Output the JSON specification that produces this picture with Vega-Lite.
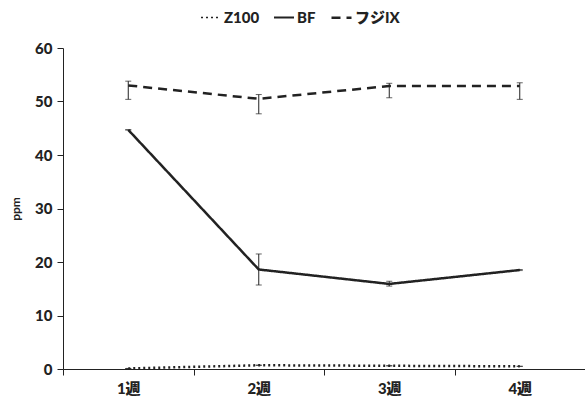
{
  "$schema": "https://vega.github.io/schema/vega-lite/v6.json",
  "width": 522,
  "height": 321,
  "autosize": "none",
  "padding": {"left": 63, "top": 48, "right": 0, "bottom": 33},
  "config": {
    "view": {"stroke": null},
    "font": "Lato, 'Noto Sans CJK JP'",
    "axis": {"grid": false, "domainColor": "#222", "tickColor": "#222", "labelColor": "#222", "titleColor": "#222", "labelFont": "Lato, 'Noto Sans CJK JP'", "labelFontWeight": 900, "labelFontSize": 15}
  },
  "datasets": {
    "main": [
      {"week": "1週", "series": "Z100", "ppm": 0.1, "lo": 0.1, "hi": 0.1},
      {"week": "2週", "series": "Z100", "ppm": 0.7, "lo": 0.7, "hi": 0.7},
      {"week": "3週", "series": "Z100", "ppm": 0.6, "lo": 0.6, "hi": 0.6},
      {"week": "4週", "series": "Z100", "ppm": 0.5, "lo": 0.5, "hi": 0.5},
      {"week": "1週", "series": "BF", "ppm": 44.7, "lo": 44.7, "hi": 44.7},
      {"week": "2週", "series": "BF", "ppm": 18.6, "lo": 15.7, "hi": 21.5},
      {"week": "3週", "series": "BF", "ppm": 15.9, "lo": 15.5, "hi": 16.4},
      {"week": "4週", "series": "BF", "ppm": 18.5, "lo": 18.4, "hi": 18.6},
      {"week": "1週", "series": "フジIX", "ppm": 53.0, "lo": 50.4, "hi": 53.8},
      {"week": "2週", "series": "フジIX", "ppm": 50.5, "lo": 47.7, "hi": 51.3},
      {"week": "3週", "series": "フジIX", "ppm": 52.9, "lo": 50.7, "hi": 53.4},
      {"week": "4週", "series": "フジIX", "ppm": 52.9, "lo": 50.4, "hi": 53.5}
    ]
  },
  "data": {"name": "main"},
  "encoding": {
    "x": {
      "field": "week", "type": "nominal", "sort": null,
      "scale": {"type": "band", "paddingInner": 0, "paddingOuter": 0},
      "axis": {"title": null, "labelAngle": 0, "tickBand": "extent", "tickSize": 6, "labelPadding": 6, "domainWidth": 1.2}
    }
  },
  "layer": [
    {
      "mark": {"type": "line", "color": "#222", "strokeWidth": 2.5},
      "encoding": {
        "y": {
          "field": "ppm", "type": "quantitative",
          "scale": {"domain": [0, 60], "nice": false},
          "axis": {"title": "ppm", "titleFontSize": 12, "titleFontWeight": "bold", "titlePadding": 12, "values": [0, 10, 20, 30, 40, 50, 60], "tickSize": 6, "labelPadding": 5, "domainWidth": 1}
        },
        "strokeDash": {
          "field": "series", "type": "nominal",
          "scale": {"domain": ["Z100", "BF", "フジIX"], "range": [[2, 3], [1, 0], [9, 6]]},
          "legend": {
            "title": null, "orient": "none", "legendX": 137, "legendY": -42, "direction": "horizontal",
            "symbolType": "stroke", "symbolStrokeColor": "#222", "symbolStrokeWidth": 2.5, "symbolSize": 400,
            "labelFontSize": 15, "labelFontWeight": 900, "labelColor": "#222", "labelOffset": 2, "columnPadding": 10,
            "labelFont": "Lato, 'Noto Sans CJK JP'"
          }
        },
        "strokeWidth": {
          "field": "series", "type": "nominal",
          "scale": {"domain": ["Z100", "BF", "フジIX"], "range": [1.5, 2.5, 2.5]},
          "legend": null
        }
      }
    },
    {
      "mark": {"type": "rule", "color": "#222", "strokeWidth": 1},
      "encoding": {
        "y": {"field": "lo", "type": "quantitative"},
        "y2": {"field": "hi"}
      }
    },
    {
      "mark": {"type": "tick", "color": "#222", "thickness": 1, "size": 6, "orient": "horizontal"},
      "encoding": {"y": {"field": "lo", "type": "quantitative"}}
    },
    {
      "mark": {"type": "tick", "color": "#222", "thickness": 1, "size": 6, "orient": "horizontal"},
      "encoding": {"y": {"field": "hi", "type": "quantitative"}}
    }
  ]
}
